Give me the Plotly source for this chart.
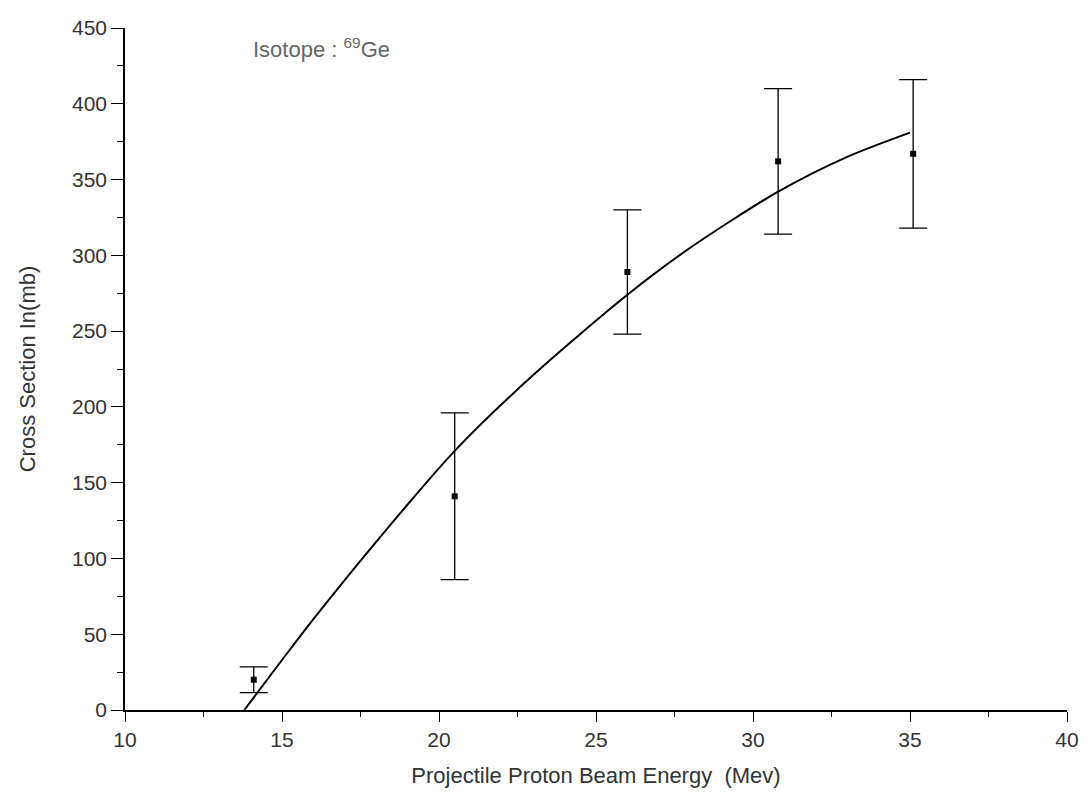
import plotly.graph_objects as go

# measured data points
energy = [14.1, 20.5, 26.0, 30.8, 35.1]
cross_section = [20, 141, 289, 362, 367]
error = [8.5, 55, 41, 48, 49]

# fitted curve
curve_x = [13.8, 15, 16, 18, 20.5, 23, 26, 28, 30.8, 33, 35]
curve_y = [0, 33, 60, 111, 171, 221, 274, 305, 342, 365, 381]

x_ticks = [10, 15, 20, 25, 30, 35, 40]
y_ticks = [0, 50, 100, 150, 200, 250, 300, 350, 400, 450]

fig = go.Figure()
fig.add_trace(go.Scatter(
    x=curve_x, y=curve_y, mode="lines",
    line=dict(color="black", width=2, shape="spline", smoothing=0.8),
    showlegend=False, hoverinfo="skip"))
fig.add_trace(go.Scatter(
    x=energy, y=cross_section, mode="markers",
    marker=dict(symbol="square", size=6, color="black"),
    error_y=dict(type="data", array=error, visible=True,
                 color="black", thickness=1.3, width=14),
    showlegend=False))

fig.add_annotation(
    x=14.0, y=437, xref="x", yref="y", xanchor="left", yanchor="middle",
    text="Isotope : <sup>69</sup>Ge", showarrow=False,
    font=dict(family="Liberation Sans, Arial", size=22, color="#666666"))

axis_font = dict(family="Liberation Sans, Arial", size=21, color="#333333")
title_font = dict(family="Liberation Sans, Arial", size=22, color="#333333")
fig.update_xaxes(
    range=[10, 40], tickvals=x_ticks, ticktext=[str(v) for v in x_ticks],
    showline=True, linecolor="black", linewidth=1.5, mirror=False,
    ticks="outside", ticklen=10, tickwidth=1.3, tickcolor="black",
    minor=dict(ticks="outside", ticklen=5, dtick=2.5, tickcolor="black"),
    showgrid=False, zeroline=False, tickfont=axis_font,
    title=dict(text="Projectile Proton Beam Energy  (Mev)",
               font=title_font, standoff=18))
fig.update_yaxes(
    range=[0, 450], tickvals=y_ticks, ticktext=[str(v) for v in y_ticks],
    showline=True, linecolor="black", linewidth=1.5, mirror=False,
    ticks="outside", ticklen=12, tickwidth=1.3, tickcolor="black",
    minor=dict(ticks="outside", ticklen=6, dtick=25, tickcolor="black"),
    showgrid=False, zeroline=False, tickfont=axis_font,
    title=dict(text="Cross Section In(mb)", font=title_font, standoff=30))

fig.update_layout(
    width=1091, height=805,
    margin=dict(l=125, r=21, t=28, b=95),
    paper_bgcolor="white", plot_bgcolor="white")

fig.write_html("out.html")
